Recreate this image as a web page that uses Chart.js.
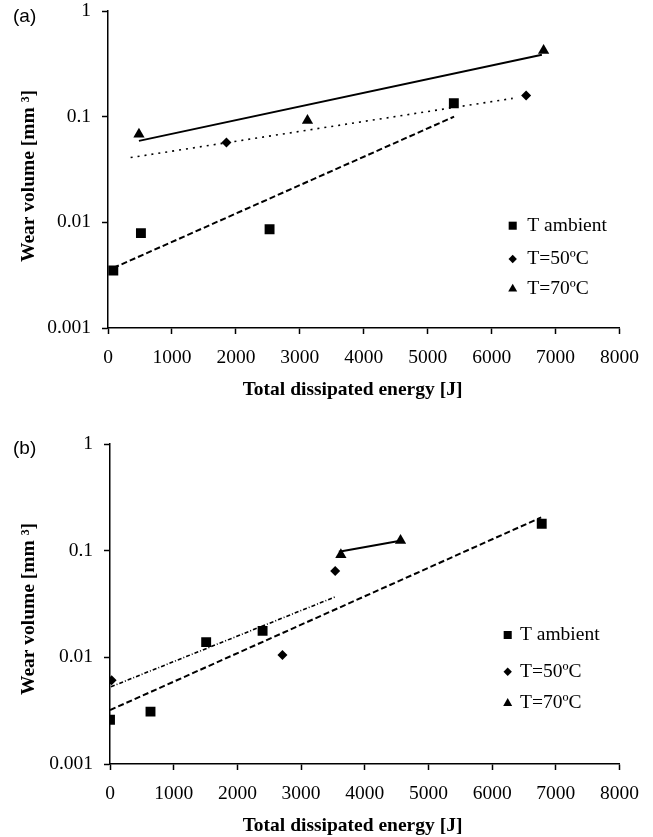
<!DOCTYPE html>
<html lang="en">
<head>
<meta charset="UTF-8">
<title>Wear volume vs total dissipated energy</title>
<script src="https://cdn.jsdelivr.net/npm/chart.js"></script>
<style>
  html, body { margin: 0; padding: 0; background: #fff; }
  .wrap { position: relative; width: 653px; height: 837px; }
  canvas { position: absolute; left: 0; }
  #chartA { top: 0; }
  #chartB { top: 430px; }
</style>
</head>
<body>
<div class="wrap">
  <canvas id="chartA" width="653" height="420"></canvas>
  <canvas id="chartB" width="653" height="407"></canvas>
</div>
<script>
// axes
const xTicks = [0, 1000, 2000, 3000, 4000, 5000, 6000, 7000, 8000];
const yTicks = [0.001, 0.01, 0.1, 1];
const seriesNames = ['T ambient', 'T=50ºC', 'T=70ºC'];
const xTitle = 'Total dissipated energy [J]';
const yTitle = 'Wear volume [mm ³]';

// (a) measured points
const aAmbientX = [83, 515, 2527, 5409];
const aAmbientY = [0.0035, 0.0079, 0.0086, 0.134];
const a50X = [1852, 6540];
const a50Y = [0.057, 0.159];
const a70X = [484, 3120, 6813];
const a70Y = [0.068, 0.092, 0.422];
// (a) exponential trendlines (ends)
const aAmbientFitX = [83, 5413];
const aAmbientFitY = [0.0037, 0.100];
const a50FitX = [354, 6330];
const a50FitY = [0.041, 0.149];
const a70FitX = [484, 6786];
const a70FitY = [0.059, 0.385];

// (b) measured points
const bAmbientX = [0, 636, 1510, 2396, 6779];
const bAmbientY = [0.0026, 0.0031, 0.0139, 0.0177, 0.179];
const b50X = [26, 2708, 3536];
const b50Y = [0.0061, 0.0105, 0.0644];
const b70X = [3625, 4562];
const b70Y = [0.0914, 0.1245];
// (b) trendlines
const bAmbientFitX = [0, 6770];
const bAmbientFitY = [0.0032, 0.205];
const b50FitX = [15, 3542];
const b50FitY = [0.0053, 0.037];
const b70FitX = [3594, 4558];
const b70FitY = [0.0977, 0.124];

const SERIF = '"Liberation Serif", "Times New Roman", serif';
const pts = (xs, ys) => xs.map((x, i) => ({ x: x, y: ys[i] }));

function markers(label, xs, ys, style, radius) {
  return {
    label: label, data: pts(xs, ys), pointStyle: style, pointRadius: radius,
    backgroundColor: '#000', borderColor: '#000', borderWidth: 0,
    showLine: false, inLegend: true
  };
}

function fit(xs, ys, dash, width) {
  return {
    label: '', data: pts(xs, ys), showLine: true, pointRadius: 0,
    borderColor: '#000', borderWidth: width, borderDash: dash, fill: false
  };
}

function drawMarker(ctx, style, x, y, r) {
  ctx.beginPath();
  if (style === 'rect') {
    const s = r * Math.SQRT1_2;
    ctx.rect(x - s, y - s, 2 * s, 2 * s);
  } else if (style === 'rectRot') {
    ctx.moveTo(x, y - r); ctx.lineTo(x + r, y); ctx.lineTo(x, y + r); ctx.lineTo(x - r, y);
  } else {
    ctx.moveTo(x, y - r); ctx.lineTo(x + 0.866 * r, y + 0.5 * r); ctx.lineTo(x - 0.866 * r, y + 0.5 * r);
  }
  ctx.closePath();
  ctx.fill();
}

// panel letter, axis titles and the legend
const overlay = {
  id: 'overlay',
  afterDraw(chart, args, o) {
    const ctx = chart.ctx;
    ctx.save();
    ctx.fillStyle = '#000';
    ctx.font = '19px "Liberation Sans", Arial, sans-serif';
    ctx.textAlign = 'left';
    ctx.textBaseline = 'alphabetic';
    ctx.fillText(o.panel, 13, o.panelY);

    ctx.font = 'bold 19.5px ' + SERIF;
    ctx.textAlign = 'center';
    ctx.fillText(xTitle, o.xTitleX, o.xTitleY);
    ctx.save();
    ctx.translate(o.yTitleX, o.yTitleY);
    ctx.rotate(-Math.PI / 2);
    ctx.fillText(yTitle, 0, 0);
    ctx.restore();

    ctx.font = '19.5px ' + SERIF;
    ctx.textAlign = 'left';
    ctx.textBaseline = 'middle';
    const legendSizes = [5.7, 4.2, 5.2];
    chart.data.datasets.filter(d => d.inLegend).forEach((d, i) => {
      const y = o.legendRows[i];
      drawMarker(ctx, d.pointStyle, o.legendMarkerX, y, legendSizes[i]);
      ctx.fillText(d.label, o.legendTextX, y);
    });
    ctx.restore();
  }
};

function makeScales(yWidth, xHeight) {
  const tickFont = { family: SERIF, size: 19.5, lineHeight: 1 };
  return {
    x: {
      type: 'linear', min: 0, max: 8000,
      afterBuildTicks: s => { s.ticks = xTicks.map(v => ({ value: v })); },
      afterFit: s => { s.height = xHeight; },
      ticks: { color: '#000', font: tickFont, padding: 14, maxRotation: 0, callback: v => String(v) },
      grid: { drawOnChartArea: false, tickLength: 6, tickColor: '#000', tickWidth: 1.5 },
      border: { color: '#000', width: 1.5 }
    },
    y: {
      type: 'logarithmic', min: 0.001, max: 1,
      afterBuildTicks: s => { s.ticks = yTicks.map(v => ({ value: v })); },
      // fixed width, and no extra room above/below for the end labels
      afterFit: s => { s.width = yWidth; s.paddingTop = 0; s.paddingBottom = 0; },
      ticks: { color: '#000', font: tickFont, padding: 11, callback: v => String(v) },
      grid: { drawOnChartArea: false, tickLength: 6, tickColor: '#000', tickWidth: 1.5 },
      border: { color: '#000', width: 1.5 }
    }
  };
}

function makeChart(id, datasets, layout, over) {
  return new Chart(document.getElementById(id), {
    type: 'scatter',
    data: { datasets: datasets },
    options: {
      responsive: false,
      animation: false,
      layout: { padding: layout.padding },
      scales: makeScales(layout.yWidth, layout.xHeight),
      plugins: { legend: { display: false }, tooltip: { enabled: false }, overlay: over }
    },
    plugins: [overlay]
  });
}

// (a)
makeChart('chartA', [
  markers(seriesNames[0], aAmbientX, aAmbientY, 'rect', 7),
  markers(seriesNames[1], a50X, a50Y, 'rectRot', 5),
  markers(seriesNames[2], a70X, a70Y, 'triangle', 6.5),
  fit(aAmbientFitX, aAmbientFitY, [6, 3], 2),
  fit(a50FitX, a50FitY, [2, 5], 1.6),
  fit(a70FitX, a70FitY, [], 2)
], { padding: { left: 0, right: 33, top: 11, bottom: 0 }, yWidth: 108, xHeight: 92 }, {
  panel: '(a)', panelY: 22,
  xTitleX: 352.5, xTitleY: 395,
  yTitleX: 33.5, yTitleY: 176,
  legendMarkerX: 512.7, legendTextX: 527.3, legendRows: [225.7, 259, 289]
});

// (b)
makeChart('chartB', [
  markers(seriesNames[0], bAmbientX, bAmbientY, 'rect', 7),
  markers(seriesNames[1], b50X, b50Y, 'rectRot', 5),
  markers(seriesNames[2], b70X, b70Y, 'triangle', 6.5),
  fit(bAmbientFitX, bAmbientFitY, [6, 3], 2),
  fit(b50FitX, b50FitY, [4, 2, 1, 2], 1.6),
  fit(b70FitX, b70FitY, [], 2)
], { padding: { left: 0, right: 31, top: 14, bottom: 0 }, yWidth: 110, xHeight: 73 }, {
  panel: '(b)', panelY: 24.3,
  xTitleX: 352.5, xTitleY: 401,
  yTitleX: 33.5, yTitleY: 179,
  legendMarkerX: 507.7, legendTextX: 520, legendRows: [205, 241.7, 273.3]
});
</script>
</body>
</html>
